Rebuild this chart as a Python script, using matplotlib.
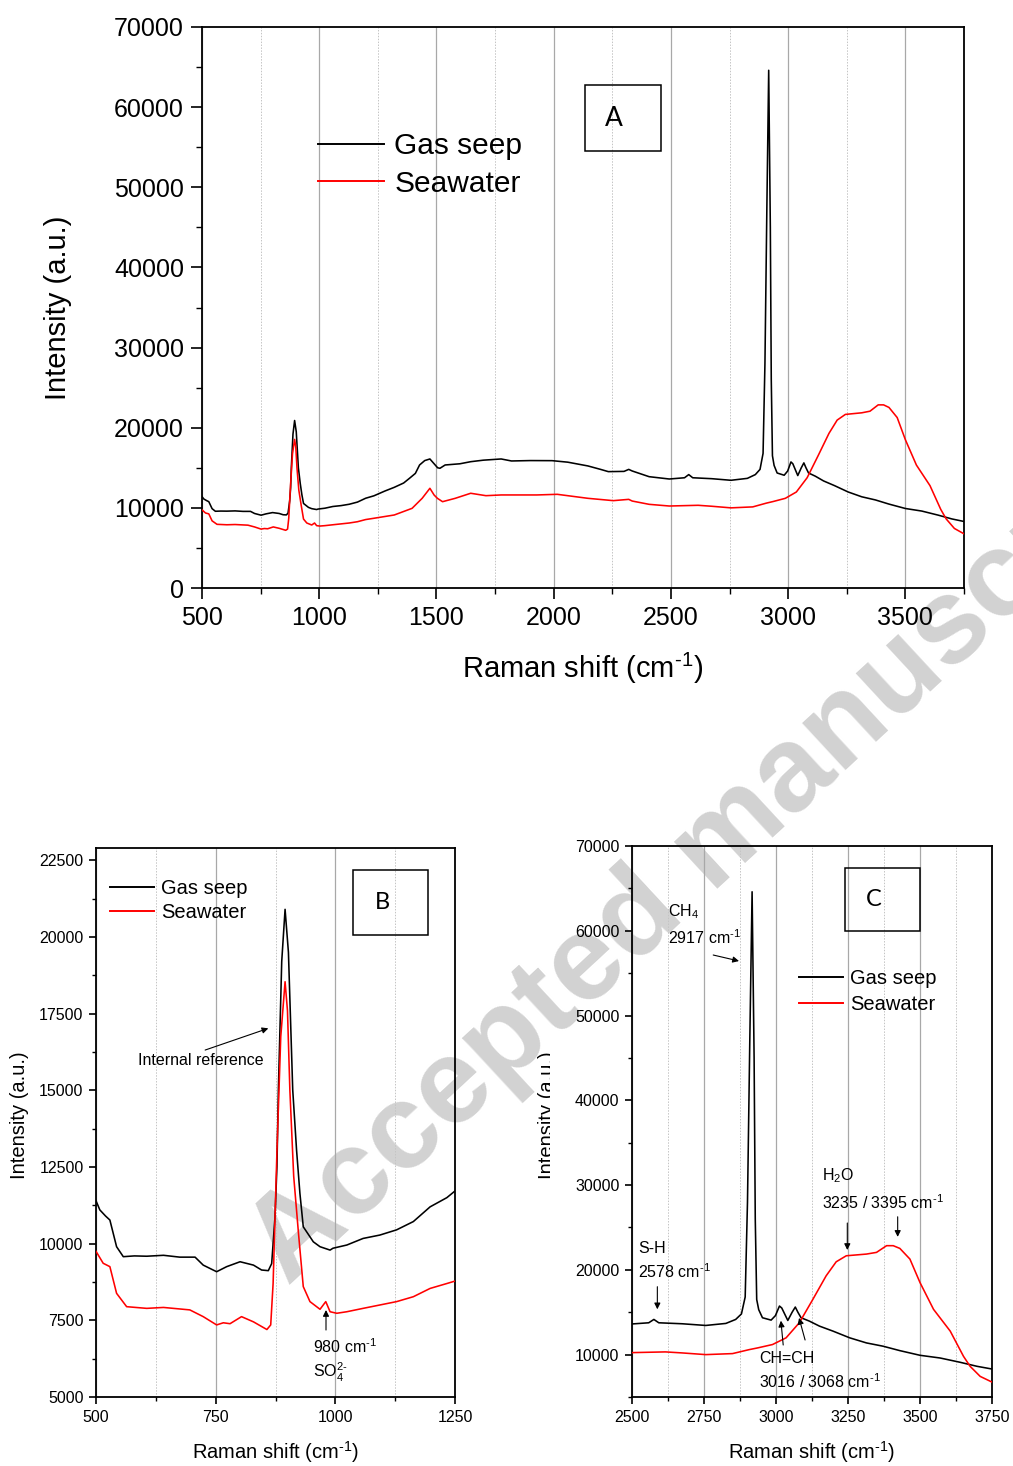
import matplotlib
matplotlib.use("Agg")
import matplotlib.pyplot as plt
from matplotlib.patches import Rectangle
from matplotlib.ticker import MultipleLocator
from matplotlib.transforms import Bbox, TransformedBbox

plt.rcParams['font.family'] = ['Liberation Sans', 'DejaVu Sans']
plt.rcParams['mathtext.fontset'] = 'custom'
plt.rcParams['mathtext.rm'] = 'Liberation Sans'
plt.rcParams['mathtext.it'] = 'Liberation Sans:italic'
plt.rcParams['mathtext.default'] = 'regular'

# ---------------- data ----------------
shift_gas = [500, 508, 520, 529, 543, 557, 580, 606, 641, 675, 707, 724, 752, 773, 801, 829,
             846, 860, 867, 874, 878, 881, 888, 895, 902, 911, 919, 926, 933, 954, 968, 989,
             995, 1024, 1058, 1093, 1128, 1163, 1198, 1233, 1280, 1320, 1360, 1385, 1410, 1428,
             1450, 1472, 1490, 1505, 1515, 1537, 1600, 1646, 1700, 1776, 1820, 1900, 1993, 2060,
             2146, 2200, 2233, 2300, 2320, 2335, 2407, 2493, 2558, 2576, 2593, 2674, 2756, 2826,
             2860, 2880, 2893, 2901, 2909, 2917, 2924, 2928, 2933, 2940, 2953, 2983, 2998, 3012,
             3020, 3041, 3056, 3067, 3076, 3087, 3116, 3151, 3198, 3256, 3314, 3372, 3430, 3500,
             3570, 3640, 3698, 3750]
gas_seep = [11400, 11100, 10900, 10770, 9900, 9575, 9600, 9590, 9620, 9560, 9560, 9300, 9085,
            9250, 9410, 9300, 9140, 9120, 9350, 10880, 12510, 15010, 19200, 20900, 19500, 15010,
            13050, 11640, 10550, 10060, 9900, 9790, 9850, 9955, 10170, 10280, 10450, 10720,
            11200, 11500, 12100, 12560, 13100, 13690, 14300, 15350, 15900, 16100, 15500, 15000,
            14940, 15350, 15500, 15760, 15950, 16100, 15850, 15900, 15890, 15700, 15230, 14800,
            14520, 14550, 14800, 14600, 13890, 13600, 13755, 14150, 13755, 13640, 13440, 13680,
            14150, 14800, 16800, 28000, 47000, 64600, 45000, 26000, 16500, 15300, 14350, 14070,
            14600, 15730, 15500, 14030, 15000, 15610, 15000, 14350, 13950, 13360, 12770, 11980,
            11380, 10990, 10470, 9920, 9600, 9090, 8620, 8300]

shift_sea = [500, 515, 529, 543, 564, 606, 641, 696, 724, 752, 766, 780, 804, 829, 857, 865,
             870, 878, 886, 895, 900, 905, 913, 923, 933, 947, 968, 980, 989, 1003, 1024, 1058,
             1093, 1128, 1163, 1198, 1233, 1320, 1396, 1439, 1472, 1490, 1504, 1526, 1580, 1646,
             1711, 1776, 1928, 2015, 2146, 2254, 2320, 2335, 2407, 2493, 2616, 2674, 2756, 2849,
             2907, 2936, 2988, 3035, 3081, 3128, 3174, 3209, 3244, 3314, 3349, 3384, 3407, 3430,
             3465, 3500, 3547, 3605, 3651, 3674, 3709, 3750]
seawater = [9750, 9360, 9250, 8380, 7945, 7890, 7920, 7840, 7620, 7350, 7420, 7390, 7620, 7450,
            7200, 7350, 8700, 13000, 16750, 18540, 17600, 15010, 12200, 10340, 8600, 8110, 7860,
            8110, 7780, 7730, 7780, 7890, 8000, 8110, 8270, 8540, 8700, 9110, 9940, 11190, 12440,
            11600, 11190, 10770, 11190, 11820, 11520, 11610, 11610, 11690, 11190, 10900, 11060,
            10850, 10440, 10230, 10320, 10200, 10000, 10120, 10590, 10790, 11190, 11980, 13760,
            16520, 19290, 20950, 21660, 21860, 22060, 22850, 22850, 22530, 21270, 18500, 15340,
            12770, 9800, 8620, 7430, 6760]

series_labels = ["Gas seep", "Seawater"]
series_colors = ["black", "red"]

W, H = 1013, 1466
fig = plt.figure(figsize=(W / 100, H / 100), dpi=100)
fig.patch.set_facecolor('white')


def fx(x):
    return x / W


def fy(y):
    return 1 - y / H


def make_axes(l, t, r, b):
    ax = fig.add_axes([fx(l), fy(b), fx(r) - fx(l), fy(t) - fy(b)])
    ax.set_facecolor('none')
    return ax


axA = make_axes(202, 27, 964, 588)
axB = make_axes(96, 848, 455, 1397)
axC = make_axes(632, 846, 992, 1397)

cm1 = "Raman shift (cm$^{\u2010 1}$)"


def style(ax, xlim, ylim, xmaj, xmin, ymaj, ymin, tick_fs, tlen, pad):
    for xs, ys, c, lab in zip([shift_gas, shift_sea], [gas_seep, seawater], series_colors, series_labels):
        ax.plot(xs, ys, color=c, lw=1.15, label=lab, zorder=3)
    ax.set_xlim(*xlim)
    ax.set_ylim(*ylim)
    ax.xaxis.set_major_locator(MultipleLocator(xmaj))
    ax.xaxis.set_minor_locator(MultipleLocator(xmin))
    ax.yaxis.set_major_locator(MultipleLocator(ymaj))
    ax.yaxis.set_minor_locator(MultipleLocator(ymin))
    ax.grid(which='major', axis='x', color='#a8a8a8', lw=0.9, ls='-', zorder=0)
    ax.grid(which='minor', axis='x', color='#c4c4c4', lw=0.7, ls=(0, (1.5, 1.5)), zorder=0)
    ax.set_axisbelow(True)
    for s in ax.spines.values():
        s.set_linewidth(1.3)
    ax.tick_params(which='major', direction='out', length=tlen, width=1.2,
                   labelsize=tick_fs, pad=pad)
    ax.tick_params(which='minor', direction='out', length=tlen * 0.55, width=1.0)
    ax.tick_params(top=False, right=False, which='both')


style(axA, (500, 3750), (0, 70000), 500, 250, 10000, 5000, 18, 8, 5)
style(axB, (500, 1250), (5000, 22900), 250, 125, 2500, 1250, 11.5, 5, 4)
style(axC, (2500, 3750), (5000, 70000), 250, 125, 10000, 5000, 11.5, 5, 4)

# axis labels
axA.set_xlabel(cm1, fontsize=21)
axA.xaxis.label.set_va('center')
axA.xaxis.set_label_coords(0.50, -0.1426)
axA.set_ylabel("Intensity (a.u.)", fontsize=21)
axA.yaxis.label.set_va('center')
axA.yaxis.set_label_coords(-0.189, 0.50)

axB.set_xlabel(cm1, fontsize=14.5)
axB.xaxis.label.set_va('center')
axB.xaxis.set_label_coords(0.50, -0.100)
axB.set_ylabel("Intensity (a.u.)", fontsize=14.5)
axB.yaxis.label.set_va('center')
axB.yaxis.set_label_coords(-0.2117, 0.514)

axC.set_xlabel(cm1, fontsize=14.5)
axC.xaxis.label.set_va('center')
axC.xaxis.set_label_coords(0.50, -0.0998)
axC.set_ylabel("Intensity (a.u.)", fontsize=14.5)
axC.yaxis.label.set_va('center')
axC.yaxis.set_label_coords(-0.236, 0.512)
clip = TransformedBbox(Bbox([[0, 0], [fx(550), 1]]), fig.transFigure)
axC.yaxis.label.set_clip_box(clip)
axC.yaxis.label.set_clip_on(True)

# legends
legA = axA.legend(loc='upper left', bbox_to_anchor=(fx(318), fy(132)), bbox_transform=fig.transFigure,
                  frameon=False, fontsize=21.5, handlelength=2.2, handletextpad=0.36,
                  labelspacing=0.32, borderpad=0, borderaxespad=0)
legB = axB.legend(loc='upper left', bbox_to_anchor=(fx(110), fy(879)), bbox_transform=fig.transFigure,
                  frameon=False, fontsize=14.5, handlelength=2.2, handletextpad=0.34,
                  labelspacing=0.27, borderpad=0, borderaxespad=0)
legC = axC.legend(loc='upper left', bbox_to_anchor=(fx(799), fy(969)), bbox_transform=fig.transFigure,
                  frameon=False, fontsize=14.5, handlelength=2.2, handletextpad=0.34,
                  labelspacing=0.37, borderpad=0, borderaxespad=0)
for leg in (legA, legB, legC):
    for h in leg.get_lines():
        h.set_linewidth(1.4)

# panel letter boxes
for (l, t, r, b), letter, fs in [((585, 85, 661, 151), "A", 19),
                                 ((353, 870, 428, 935), "B", 17),
                                 ((845, 868, 920, 931), "C", 17)]:
    fig.add_artist(Rectangle((fx(l), fy(b)), fx(r) - fx(l), fy(t) - fy(b), transform=fig.transFigure,
                             fill=False, ec='black', lw=1.1, zorder=5))
    fig.text(fx(l + 29), fy((t + b) / 2), letter, fontsize=fs, family=['Lato', 'DejaVu Sans'],
             ha='center', va='center', zorder=6)

arrow = dict(arrowstyle='-|>', lw=0.8, color='black', mutation_scale=9, shrinkA=0, shrinkB=0)
afs = 11.5
sup1 = "cm$^{\u2010 1}$"

# panel B annotations
axB.text(588, 15986, "Internal reference", fontsize=afs, ha='left', va='center')
axB.annotate("", xy=(860, 17020), xytext=(728, 16312), arrowprops=arrow)
axB.text(953, 6630, "980 " + sup1, fontsize=afs, ha='left', va='center')
axB.text(953, 5815, "SO$_4^{2\u2010}$", fontsize=afs, ha='left', va='center')
axB.annotate("", xy=(980.5, 7836), xytext=(980.5, 7184), arrowprops=arrow)

# panel C annotations
axC.text(2625, 62215, r"CH$_4$", fontsize=afs, ha='left', va='center')
axC.text(2625, 59150, "2917 " + sup1, fontsize=afs, ha='left', va='center')
axC.annotate("", xy=(2871.5, 56430), xytext=(2782, 57140), arrowprops=arrow)
axC.text(2521, 22460, "S-H", fontsize=afs, ha='left', va='center')
axC.text(2521, 19750, "2578 " + sup1, fontsize=afs, ha='left', va='center')
axC.annotate("", xy=(2588, 15346), xytext=(2588, 18012), arrowprops=arrow)
axC.text(3160, 31070, r"H$_2$O", fontsize=afs, ha='left', va='center')
axC.text(3160, 27890, "3235 / 3395 " + sup1, fontsize=afs, ha='left', va='center')
axC.annotate("", xy=(3247.6, 22342), xytext=(3247.6, 25527), arrowprops=arrow)
axC.annotate("", xy=(3422.5, 23890), xytext=(3422.5, 26260), arrowprops=arrow)
axC.text(2941, 9483, "CH=CH", fontsize=afs, ha='left', va='center')
axC.text(2941, 6770, "3016 / 3068 " + sup1, fontsize=afs, ha='left', va='center')
axC.annotate("", xy=(3017, 14000), xytext=(3025, 11134), arrowprops=arrow)
axC.annotate("", xy=(3080, 14330), xytext=(3101, 11724), arrowprops=arrow)

# watermark (behind the transparent axes)
fig.text(fx(288), fy(1287), "Accepted manuscript", fontsize=87, fontweight='bold',
         color='#d2d2d2', rotation=42.8, rotation_mode='anchor',
         ha='left', va='baseline', zorder=-1)

fig.savefig("out.png", dpi=100)
